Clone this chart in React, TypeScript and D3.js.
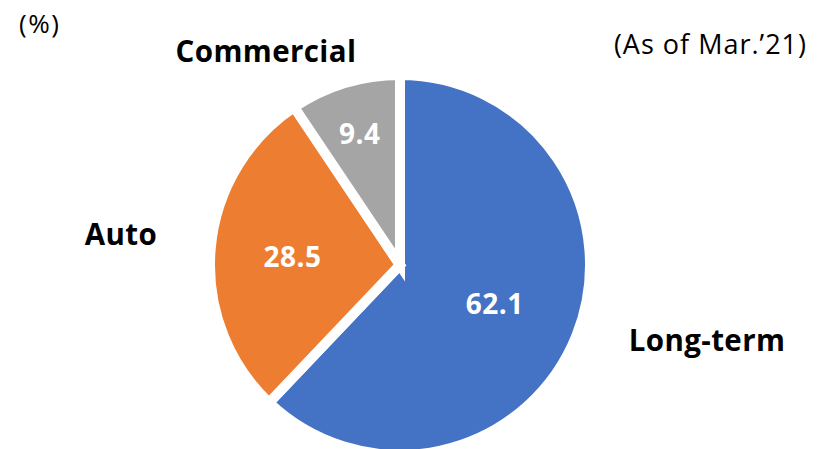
import React from "react";
import * as d3 from "d3";

const categories = ["Long-term", "Auto", "Commercial"];
const values = [62.1, 28.5, 9.4];
const colors = ["#4472C4", "#ED7D31", "#A5A5A5"];

const W = 822;
const H = 449;
const cx = 400;
const cy = 265;
const R = 190;
const FONT = "'Open Sans', 'Noto Sans CJK KR', sans-serif";

// label layout (value label radius per slice, outer category label positions)
const valueLabelRadius = [102, 108, 138];
const outerLabelPos: [number, number][] = [
  [707, 339],
  [121, 233],
  [266, 50],
];

export default function App() {
  const pie = d3
    .pie<number>()
    .sort(null)
    .value((d) => d)
    .startAngle(0)
    .endAngle(2 * Math.PI);
  const arcs = pie(values);
  const arcGen = d3.arc<d3.PieArcDatum<number>>().innerRadius(0).outerRadius(R);

  return (
    <svg
      width={W}
      height={H}
      style={{ position: "absolute", left: 0, top: 0, background: "#fff" }}
    >
      <g transform={`translate(${cx},${cy})`}>
        {arcs.map((a, i) => (
          <path
            key={categories[i]}
            d={arcGen(a) || ""}
            fill={colors[i]}
            stroke="#fff"
            strokeWidth={10}
            strokeLinejoin="miter"
          />
        ))}
        {arcs.map((a, i) => {
          const mid = (a.startAngle + a.endAngle) / 2;
          const r = valueLabelRadius[i];
          const x = Math.sin(mid) * r;
          const y = -Math.cos(mid) * r;
          return (
            <text
              key={"v" + i}
              x={x}
              y={y}
              textAnchor="middle"
              dominantBaseline="central"
              fill="#fff"
              fontFamily={FONT}
              fontWeight="bold"
              fontSize={28}
              letterSpacing={0.5}
            >
              {values[i].toFixed(1)}
            </text>
          );
        })}
      </g>
      {categories.map((c, i) => (
        <text
          key={"c" + i}
          x={outerLabelPos[i][0]}
          y={outerLabelPos[i][1]}
          textAnchor="middle"
          dominantBaseline="central"
          fill="#000"
          fontFamily={FONT}
          fontWeight="bold"
          fontSize={29.5}
          letterSpacing={0.4}
        >
          {c}
        </text>
      ))}
      <text x={19} y={23} dominantBaseline="central" fontFamily={FONT} fontSize={26} letterSpacing={1.5} fill="#000">
        (%)
      </text>
      <text
        x={807}
        y={43}
        textAnchor="end"
        dominantBaseline="central"
        fontFamily={FONT}
        fontSize={27}
        letterSpacing={1}
        fill="#000"
      >
        (As of Mar.’21)
      </text>
    </svg>
  );
}
